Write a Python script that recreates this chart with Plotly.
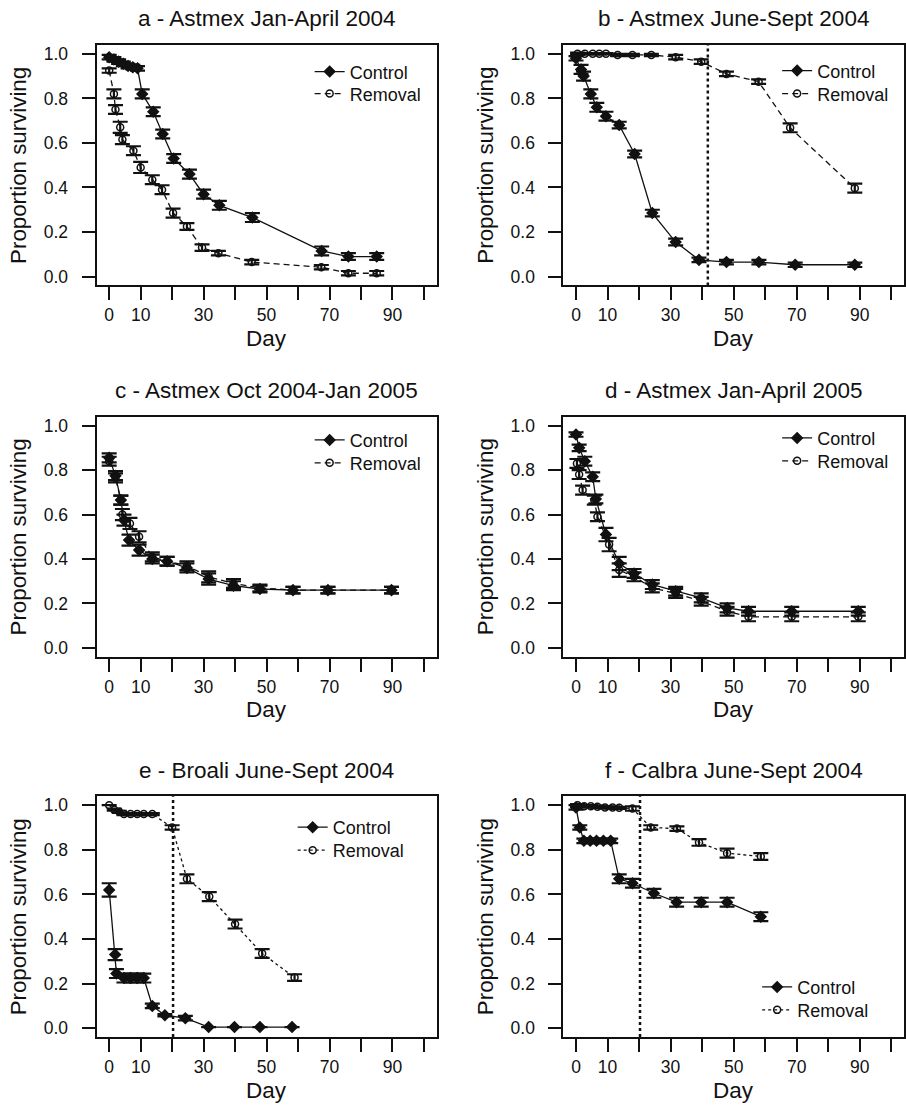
import plotly.graph_objects as go

# ---------------- survival data (day, proportion surviving, s.e.) ----------------
# a - Astmex Jan-April 2004
a_ctrl_day = [0, 1.5, 3, 4.5, 6, 7.5, 9, 10.5, 14, 17, 20.5, 25.5, 30, 35, 45.5, 67.5, 76, 85]
a_ctrl_val = [0.985, 0.975, 0.965, 0.955, 0.945, 0.94, 0.935, 0.82, 0.74, 0.64, 0.53, 0.46,
              0.37, 0.32, 0.265, 0.115, 0.09, 0.09]
a_ctrl_err = [0.01, 0.01, 0.01, 0.01, 0.01, 0.01, 0.01, 0.02, 0.02, 0.02, 0.02, 0.02,
              0.02, 0.02, 0.02, 0.02, 0.015, 0.015]
a_rem_day = [0, 1.5, 2, 3.5, 4.2, 7.7, 10, 13.7, 16.8, 20.3, 24.7, 29.5, 34.7, 45.3, 67.4, 76, 85]
a_rem_val = [0.925, 0.82, 0.75, 0.67, 0.615, 0.565, 0.49, 0.435, 0.39, 0.285, 0.225, 0.13,
             0.105, 0.065, 0.042, 0.015, 0.015]
a_rem_err = [0.01, 0.02, 0.02, 0.025, 0.02, 0.02, 0.025, 0.02, 0.02, 0.02, 0.015, 0.015,
             0.01, 0.01, 0.01, 0.01, 0.01]

# b - Astmex June-Sept 2004
b_ctrl_day = [0, 1.6, 2.4, 4.7, 6.6, 9.5, 13.7, 18.6, 24.2, 31.6, 39, 47.7, 58, 69.5, 88.4]
b_ctrl_val = [0.98, 0.93, 0.90, 0.82, 0.76, 0.72, 0.68, 0.55, 0.285, 0.155, 0.075, 0.065,
              0.065, 0.053, 0.053]
b_ctrl_err = [0.01, 0.02, 0.02, 0.02, 0.02, 0.02, 0.015, 0.015, 0.015, 0.015, 0.01, 0.01,
              0.01, 0.01, 0.01]
b_rem_day = [0.5, 2.8, 5.3, 7.4, 9.5, 13.2, 17.9, 23.9, 31.6, 39.7, 47.7, 57.9, 67.9, 88.4]
b_rem_val = [1.0, 1.0, 1.0, 1.0, 1.0, 0.995, 0.995, 0.995, 0.985, 0.965, 0.91, 0.875,
             0.668, 0.397]
b_rem_err = [0.005, 0.003, 0.003, 0.003, 0.003, 0.005, 0.005, 0.005, 0.01, 0.01, 0.01, 0.01,
             0.02, 0.02]
b_cutoff_day = 41.8

# c - Astmex Oct 2004-Jan 2005
c_ctrl_day = [0, 2, 3.7, 4.7, 6.3, 9.5, 13.7, 18.4, 24.7, 31.6, 39.5, 47.9, 58.4, 69.5, 89.7]
c_ctrl_val = [0.855, 0.775, 0.665, 0.575, 0.485, 0.44, 0.40, 0.39, 0.36, 0.31, 0.28, 0.265,
              0.26, 0.26, 0.26]
c_ctrl_err = [0.02, 0.02, 0.02, 0.025, 0.025, 0.025, 0.02, 0.02, 0.02, 0.025, 0.02, 0.015,
              0.015, 0.015, 0.015]
c_rem_day = [0, 2, 3.7, 4.2, 6.6, 9.5, 13.7, 18.4, 24.7, 31.6, 39.5, 47.9, 58.4, 69.5, 89.7]
c_rem_val = [0.84, 0.765, 0.665, 0.60, 0.56, 0.50, 0.41, 0.39, 0.37, 0.32, 0.29, 0.27,
             0.26, 0.26, 0.26]
c_rem_err = [0.02, 0.02, 0.02, 0.025, 0.025, 0.025, 0.02, 0.02, 0.02, 0.025, 0.02, 0.015,
             0.015, 0.015, 0.015]

# d - Astmex Jan-April 2005
d_ctrl_day = [0, 1, 2.8, 5.3, 6.3, 9.5, 13.7, 18.4, 24.2, 31.6, 39.7, 47.9, 54.7, 68.4, 89.5]
d_ctrl_val = [0.96, 0.90, 0.84, 0.77, 0.67, 0.51, 0.38, 0.335, 0.285, 0.255, 0.225, 0.18,
              0.165, 0.165, 0.165]
d_ctrl_err = [0.01, 0.015, 0.02, 0.02, 0.02, 0.03, 0.03, 0.02, 0.02, 0.02, 0.02, 0.02,
              0.02, 0.02, 0.02]
d_rem_day = [0.3, 1, 2.1, 5.8, 6.8, 10.5, 13.7, 18.4, 24.2, 31.6, 39.7, 47.9, 54.7, 68.4, 89.5]
d_rem_val = [0.83, 0.78, 0.71, 0.665, 0.59, 0.465, 0.35, 0.32, 0.27, 0.245, 0.21, 0.165,
             0.14, 0.14, 0.14]
d_rem_err = [0.02, 0.02, 0.02, 0.02, 0.02, 0.03, 0.03, 0.02, 0.02, 0.02, 0.02, 0.02,
             0.02, 0.02, 0.02]

# e - Broali June-Sept 2004
e_ctrl_day = [0, 1.9, 2.3, 4.7, 6.8, 8.9, 11, 13.7, 17.7, 24.2, 31.6, 39.8, 47.9, 58.1]
e_ctrl_val = [0.62, 0.33, 0.245, 0.225, 0.225, 0.225, 0.225, 0.10, 0.058, 0.045, 0.005,
              0.005, 0.005, 0.005]
e_ctrl_err = [0.03, 0.025, 0.02, 0.02, 0.02, 0.02, 0.02, 0.01, 0.005, 0.01, 0.0, 0.0, 0.0, 0.0]
e_rem_day = [0, 1.6, 3.2, 4.7, 6.8, 8.9, 11, 13.7, 20, 24.7, 31.8, 40, 48.6, 58.9]
e_rem_val = [1.0, 0.98, 0.97, 0.96, 0.96, 0.96, 0.96, 0.96, 0.90, 0.67, 0.59, 0.467,
             0.335, 0.227]
e_rem_err = [0.0, 0.005, 0.005, 0.005, 0.005, 0.005, 0.005, 0.005, 0.01, 0.02, 0.02, 0.02,
             0.02, 0.015]
e_cutoff_day = 20.3

# f - Calbra June-Sept 2004
f_ctrl_day = [0, 1.2, 2.5, 4.5, 6.5, 8.7, 11, 13.7, 17.9, 24.7, 31.9, 39.7, 47.9, 58.6]
f_ctrl_val = [0.99, 0.90, 0.84, 0.84, 0.84, 0.84, 0.84, 0.67, 0.65, 0.605, 0.565, 0.565,
              0.565, 0.50]
f_ctrl_err = [0.01, 0.01, 0.01, 0.01, 0.01, 0.01, 0.01, 0.02, 0.02, 0.02, 0.02, 0.02,
              0.02, 0.02]
f_rem_day = [0.5, 2.6, 4.7, 6.8, 9.2, 11.6, 13.7, 17.9, 23.7, 32, 39, 47.9, 58.6]
f_rem_val = [1.0, 0.995, 0.995, 0.993, 0.99, 0.99, 0.988, 0.985, 0.90, 0.895, 0.833,
             0.785, 0.77]
f_rem_err = [0.005, 0.005, 0.005, 0.005, 0.005, 0.005, 0.005, 0.01, 0.01, 0.01, 0.015,
             0.02, 0.015]
f_cutoff_day = 20.3

panel_titles = ["a - Astmex Jan-April 2004", "b - Astmex June-Sept 2004",
                "c - Astmex Oct 2004-Jan 2005", "d - Astmex Jan-April 2005",
                "e - Broali June-Sept 2004", "f - Calbra June-Sept 2004"]
series_names = ["Control", "Removal"]
x_ticks = [0, 10, 20, 30, 40, 50, 60, 70, 80, 90, 100]
x_ticktext = ["0", "10", "", "30", "", "50", "", "70", "", "90", ""]
y_ticks = [0.0, 0.2, 0.4, 0.6, 0.8, 1.0]
x_label = "Day"
y_label = "Proportion surviving"

# ---------------- page geometry (pixels) ----------------
W, H = 906, 1105
FONT = "Liberation Sans, Arial, Helvetica, sans-serif"
INK = "#111111"
COLS = [(96.7, 437.0), (564.0, 905.0)]
ROWS = [(44.0, 285.0), (416.5, 657.0), (796.7, 1038.0)]


def xp(px):
    return px / W


def yp(py):
    return 1 - py / H


# legend anchor: (left x of entry, centre y of "Control", centre y of "Removal")
panels = [
    dict(ctrl=(a_ctrl_day, a_ctrl_val, a_ctrl_err), rem=(a_rem_day, a_rem_val, a_rem_err),
         cutoff=None, dash="6px,4px", legend=(310, 71, 93)),
    dict(ctrl=(b_ctrl_day, b_ctrl_val, b_ctrl_err), rem=(b_rem_day, b_rem_val, b_rem_err),
         cutoff=b_cutoff_day, dash="6px,4px", legend=(778, 70, 93)),
    dict(ctrl=(c_ctrl_day, c_ctrl_val, c_ctrl_err), rem=(c_rem_day, c_rem_val, c_rem_err),
         cutoff=None, dash="6px,4px", legend=(310, 440, 463)),
    dict(ctrl=(d_ctrl_day, d_ctrl_val, d_ctrl_err), rem=(d_rem_day, d_rem_val, d_rem_err),
         cutoff=None, dash="6px,4px", legend=(778, 438, 461)),
    dict(ctrl=(e_ctrl_day, e_ctrl_val, e_ctrl_err), rem=(e_rem_day, e_rem_val, e_rem_err),
         cutoff=e_cutoff_day, dash="3px,3px", legend=(293, 828, 851)),
    dict(ctrl=(f_ctrl_day, f_ctrl_val, f_ctrl_err), rem=(f_rem_day, f_rem_val, f_rem_err),
         cutoff=f_cutoff_day, dash="3px,3px", legend=(758, 988, 1011)),
]

fig = go.Figure()
layout = dict(width=W, height=H, margin=dict(l=0, r=0, t=0, b=0),
              paper_bgcolor="white", plot_bgcolor="white",
              font=dict(family=FONT, color=INK), showlegend=True)
annotations = []
shapes = []

axis_common = dict(ticks="outside", ticklen=13, tickwidth=2, tickcolor=INK,
                   showline=True, linewidth=2, linecolor=INK, mirror=True,
                   showgrid=False, zeroline=False, tickfont=dict(size=17.5, family=FONT))

legend_count = 0
for i, p in enumerate(panels):
    n = i + 1
    sfx = "" if n == 1 else str(n)
    col, row = i % 2, i // 2
    x0, x1 = COLS[col]
    y0, y1 = ROWS[row]
    lx, ly_ctrl, ly_rem = p["legend"]

    layout[f"xaxis{sfx}"] = dict(axis_common, domain=[xp(x0), xp(x1)], range=[-4, 104],
                                 tickmode="array", tickvals=x_ticks, ticktext=x_ticktext,
                                 anchor=f"y{sfx}")
    layout[f"yaxis{sfx}"] = dict(axis_common, domain=[yp(y1), yp(y0)], range=[-0.04, 1.04],
                                 tickmode="array", tickvals=y_ticks,
                                 ticktext=[f"{v:.1f}" for v in y_ticks],
                                 anchor=f"x{sfx}", ticklabelstandoff=10)

    for (days, vals, errs), name, filled, ly in ((p["ctrl"], series_names[0], True, ly_ctrl),
                                                (p["rem"], series_names[1], False, ly_rem)):
        legend_count += 1
        leg = "legend" if legend_count == 1 else f"legend{legend_count}"
        fig.add_trace(go.Scatter(
            x=days, y=vals, name=name, mode="lines+markers",
            xaxis=f"x{sfx}", yaxis=f"y{sfx}", legend=leg,
            line=dict(color=INK, width=1.3, dash="solid" if filled else p["dash"]),
            marker=dict(symbol="diamond" if filled else "circle-open",
                        size=8 if filled else 7, color=INK,
                        line=dict(color=INK, width=1.5)),
            error_y=dict(type="data", array=errs, visible=True, color=INK,
                         thickness=2.2, width=7.5),
        ))
        layout[leg] = dict(x=xp(lx), y=yp(ly), xanchor="left", yanchor="middle",
                           bgcolor="rgba(0,0,0,0)", borderwidth=0,
                           font=dict(size=18, family=FONT, color=INK),
                           itemclick=False, itemdoubleclick=False)

    if p["cutoff"] is not None:
        shapes.append(dict(type="line", xref=f"x{sfx}", yref=f"y{sfx} domain",
                           x0=p["cutoff"], x1=p["cutoff"], y0=0, y1=1,
                           line=dict(color=INK, width=2.5, dash="3px,3px")))

    # panel title and axis titles
    annotations.append(dict(text=panel_titles[i], xref="paper", yref="paper",
                            x=xp((x0 + x1) / 2), y=yp(y0 - 26), xanchor="center",
                            yanchor="middle", showarrow=False,
                            font=dict(size=22.5, family=FONT, color=INK)))
    annotations.append(dict(text=x_label, xref="paper", yref="paper",
                            x=xp((x0 + x1) / 2), y=yp(y1 + 53), xanchor="center",
                            yanchor="middle", showarrow=False,
                            font=dict(size=22.5, family=FONT, color=INK)))
    annotations.append(dict(text=y_label, xref="paper", yref="paper",
                            x=xp(x0 - 78), y=yp((y0 + y1) / 2),
                            xanchor="center", yanchor="middle", textangle=-90,
                            showarrow=False,
                            font=dict(size=22.3, family=FONT, color=INK)))

layout["annotations"] = annotations
layout["shapes"] = shapes
fig.update_layout(**layout)
fig.write_html("out.html")
